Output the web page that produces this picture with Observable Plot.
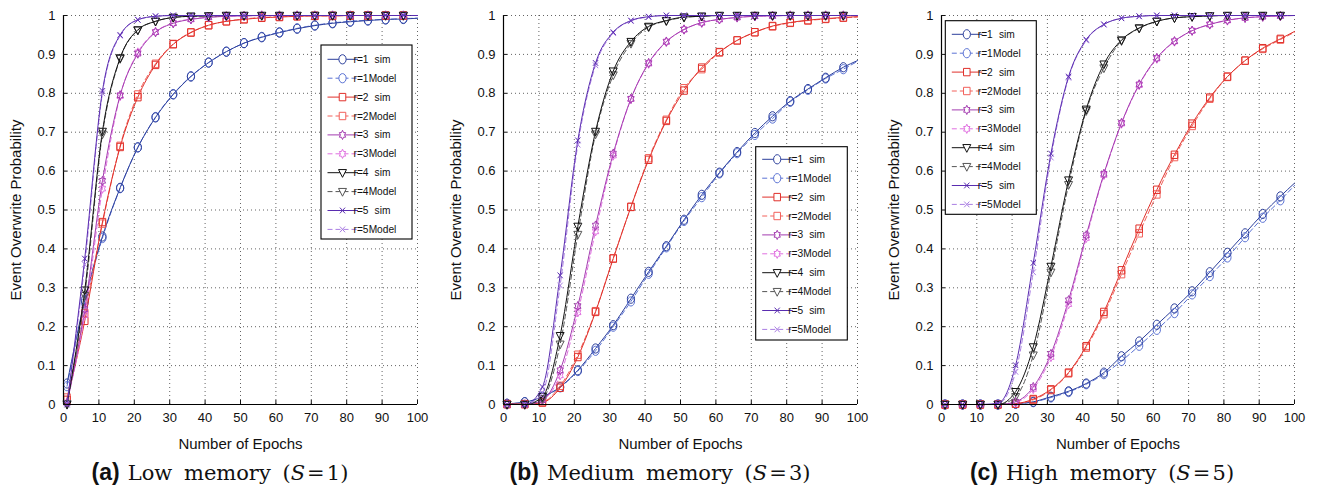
<!DOCTYPE html>
<html>
<head>
<meta charset="utf-8">
<script src="https://cdn.jsdelivr.net/npm/d3@7"></script>
<script src="https://cdn.jsdelivr.net/npm/@observablehq/plot@0.6"></script>
<style>
  body { margin: 0; background: #fff; }
  #row { display: flex; width: 1324px; }
  .panel { position: relative; }
  .panel svg { display: block; }
  .cap { text-align: center; height: 31px; line-height: 34px; white-space: nowrap; color: #111; }
  .cap .lab { font-family: "Liberation Sans", Arial, sans-serif; font-weight: bold; font-size: 23px; }
  .cap .ser { font-family: "DejaVu Serif", "Liberation Serif", serif; font-size: 21px; word-spacing: 5px; margin-left: 8px; }
</style>
</head>
<body>
<div id="row"></div>
<script>
// ---------- data ----------
const epochs = [1, 6, 11, 16, 21, 26, 31, 36, 41, 46, 51, 56, 61, 66, 71, 76, 81, 86, 91, 96, 100];
const markerLastEpoch = 96;
const xDomain = [0, 100];
const yDomain = [0, 1];
const xTicks = [0, 10, 20, 30, 40, 50, 60, 70, 80, 90, 100];
const yTicks = [0, 0.1, 0.2, 0.3, 0.4, 0.5, 0.6, 0.7, 0.8, 0.9, 1];
const seriesNames = ["r=1", "r=2", "r=3", "r=4", "r=5"];
const kindNames = ["sim", "Model"];
const simColors = ["#2c3f9c", "#e0302a", "#a43cb0", "#111111", "#5a2db0"];
const modelColors = ["#5a72d4", "#f2605a", "#e070e0", "#555555", "#a97ee2"];
const xLabel = "Number of Epochs";
const yLabel = "Event Overwrite Probability";
const captionTags = ["(a)", "(b)", "(c)"];
const captionTexts = ["Low memory", "Medium memory", "High memory"];
const captionS = [1, 3, 5];

// Panel (a) Low memory S=1
const a_r1_sim   = [0.054,0.268,0.432,0.557,0.661,0.738,0.797,0.843,0.879,0.907,0.929,0.944,0.956,0.966,0.974,0.980,0.984,0.987,0.990,0.991,0.993];
const a_r1_model = [0.047,0.262,0.428,0.556,0.661,0.739,0.798,0.844,0.879,0.907,0.929,0.945,0.957,0.967,0.975,0.981,0.985,0.988,0.990,0.992,0.993];
const a_r2_sim   = [0.012,0.215,0.469,0.662,0.790,0.873,0.926,0.956,0.975,0.985,0.990,0.994,0.996,0.998,0.999,0.999,1,1,1,1,1];
const a_r2_model = [0.018,0.235,0.465,0.665,0.797,0.876,0.927,0.957,0.975,0.985,0.991,0.995,0.997,0.998,0.999,0.999,1,1,1,1,1];
const a_r3_sim   = [0.004,0.245,0.575,0.795,0.902,0.957,0.980,0.990,0.995,0.998,0.999,1,1,1,1,1,1,1,1,1,1];
const a_r3_model = [0.005,0.230,0.555,0.793,0.905,0.958,0.981,0.991,0.996,0.998,0.999,1,1,1,1,1,1,1,1,1,1];
const a_r4_sim   = [0.000,0.294,0.702,0.891,0.963,0.985,0.995,0.998,0.999,1,1,1,1,1,1,1,1,1,1,1,1];
const a_r4_model = [0.002,0.280,0.695,0.889,0.962,0.985,0.995,0.998,0.999,1,1,1,1,1,1,1,1,1,1,1,1];
const a_r5_sim   = [0.000,0.375,0.806,0.950,0.989,0.998,1,1,1,1,1,1,1,1,1,1,1,1,1,1,1];
const a_r5_model = [0.003,0.360,0.800,0.948,0.989,0.998,1,1,1,1,1,1,1,1,1,1,1,1,1,1,1];

// Panel (b) Medium memory S=3
const b_r1_sim   = [0.002,0.006,0.020,0.045,0.088,0.144,0.204,0.272,0.341,0.407,0.475,0.539,0.596,0.649,0.698,0.741,0.780,0.811,0.840,0.867,0.884];
const b_r1_model = [0.002,0.006,0.019,0.044,0.086,0.138,0.200,0.265,0.336,0.404,0.472,0.533,0.594,0.646,0.693,0.735,0.778,0.809,0.838,0.862,0.882];
const b_r2_sim   = [0.001,0.001,0.005,0.043,0.122,0.238,0.375,0.508,0.629,0.729,0.807,0.866,0.906,0.936,0.957,0.973,0.982,0.988,0.992,0.995,0.997];
const b_r2_model = [0.001,0.001,0.006,0.048,0.128,0.240,0.376,0.508,0.633,0.732,0.813,0.862,0.905,0.936,0.957,0.972,0.981,0.987,0.991,0.994,0.996];
const b_r3_sim   = [0,0,0.011,0.088,0.253,0.460,0.645,0.786,0.878,0.933,0.964,0.982,0.990,0.995,0.998,0.999,1,1,1,1,1];
const b_r3_model = [0,0,0.012,0.075,0.237,0.445,0.640,0.785,0.876,0.932,0.964,0.981,0.990,0.995,0.998,0.999,1,1,1,1,1];
const b_r4_sim   = [0,0,0.020,0.177,0.458,0.702,0.857,0.933,0.972,0.987,0.996,0.998,1,1,1,1,1,1,1,1,1];
const b_r4_model = [0,0,0.015,0.155,0.437,0.695,0.847,0.928,0.970,0.986,0.995,0.998,1,1,1,1,1,1,1,1,1];
const b_r5_sim   = [0,0,0.045,0.332,0.679,0.878,0.957,0.987,0.997,1,1,1,1,1,1,1,1,1,1,1,1];
const b_r5_model = [0,0,0.030,0.306,0.668,0.872,0.955,0.986,0.996,1,1,1,1,1,1,1,1,1,1,1,1];

// Panel (c) High memory S=5
const c_r1_sim   = [0,0,0,0,0.002,0.007,0.020,0.034,0.054,0.082,0.124,0.162,0.205,0.247,0.291,0.340,0.390,0.440,0.490,0.535,0.569];
const c_r1_model = [0,0,0,0,0.002,0.006,0.018,0.032,0.052,0.078,0.112,0.151,0.192,0.235,0.283,0.330,0.378,0.430,0.480,0.525,0.563];
const c_r2_sim   = [0,0,0,0,0.002,0.014,0.039,0.082,0.150,0.238,0.345,0.452,0.552,0.642,0.722,0.789,0.843,0.884,0.916,0.940,0.959];
const c_r2_model = [0,0,0,0,0.002,0.012,0.037,0.080,0.146,0.232,0.335,0.440,0.540,0.636,0.716,0.786,0.842,0.884,0.914,0.938,0.957];
const c_r3_sim   = [0,0,0,0,0.007,0.045,0.130,0.268,0.435,0.593,0.724,0.823,0.891,0.934,0.961,0.977,0.988,0.994,0.997,0.999,1];
const c_r3_model = [0,0,0,0,0.005,0.040,0.122,0.258,0.428,0.590,0.722,0.821,0.889,0.933,0.961,0.977,0.987,0.994,0.997,0.999,1];
const c_r4_sim   = [0,0,0,0,0.033,0.148,0.355,0.577,0.759,0.875,0.937,0.968,0.985,0.994,0.997,0.999,1,1,1,1,1];
const c_r4_model = [0,0,0,0,0.020,0.127,0.340,0.565,0.755,0.865,0.935,0.967,0.985,0.994,0.997,0.999,1,1,1,1,1];
const c_r5_sim   = [0,0,0,0.003,0.101,0.364,0.645,0.843,0.938,0.977,0.993,0.998,1,1,1,1,1,1,1,1,1];
const c_r5_model = [0,0,0,0.002,0.084,0.340,0.635,0.840,0.936,0.977,0.993,0.998,1,1,1,1,1,1,1,1,1];

// ---------- symbols (Matlab-like markers, slightly stretched vertically) ----------
const K = 0.5523;
function rad(size) { return Math.sqrt(size / Math.PI); }
const symCircle = { draw(ctx, size) {
  const r = rad(size), rx = r * 0.86, ry = r * 1.1;
  ctx.moveTo(rx, 0);
  ctx.bezierCurveTo(rx, ry * K, rx * K, ry, 0, ry);
  ctx.bezierCurveTo(-rx * K, ry, -rx, ry * K, -rx, 0);
  ctx.bezierCurveTo(-rx, -ry * K, -rx * K, -ry, 0, -ry);
  ctx.bezierCurveTo(rx * K, -ry, rx, -ry * K, rx, 0);
  ctx.closePath();
}};
const symSquare = { draw(ctx, size) {
  const r = rad(size), w = r * 0.78, h = r * 0.88;
  ctx.moveTo(-w, -h); ctx.lineTo(w, -h); ctx.lineTo(w, h); ctx.lineTo(-w, h); ctx.closePath();
}};
const symHexagram = { draw(ctx, size) {
  const r = rad(size) * 1.0, sx = 0.86, sy = 1.1;
  for (let i = 0; i < 12; i++) {
    const a = -Math.PI / 2 + i * Math.PI / 6;
    const rr = i % 2 === 0 ? r : r / Math.sqrt(3);
    const px = Math.cos(a) * rr * sx, py = Math.sin(a) * rr * sy;
    if (i === 0) ctx.moveTo(px, py); else ctx.lineTo(px, py);
  }
  ctx.closePath();
}};
const symTriDown = { draw(ctx, size) {
  const r = rad(size), w = r * 0.95;
  ctx.moveTo(-w, -r * 0.75); ctx.lineTo(w, -r * 0.75); ctx.lineTo(0, r * 1.1); ctx.closePath();
}};
const symX = { draw(ctx, size) {
  const r = rad(size) * 0.62, h = r * 1.1;
  ctx.moveTo(-r, -h); ctx.lineTo(r, h); ctx.moveTo(r, -h); ctx.lineTo(-r, h);
}};
const symbols = [symCircle, symSquare, symHexagram, symTriDown, symX];
const markerR = 4.2;

// ---------- panels ----------
const panels = [
  { width: 440, ml: 63, mr: 23, sim: [a_r1_sim, a_r2_sim, a_r3_sim, a_r4_sim, a_r5_sim],
    model: [a_r1_model, a_r2_model, a_r3_model, a_r4_model, a_r5_model],
    legend: { left: 321, top: 45, right: 412, bottom: 239, firstRow: 59.3, gap: 18.9 } },
  { width: 440, ml: 63, mr: 23, sim: [b_r1_sim, b_r2_sim, b_r3_sim, b_r4_sim, b_r5_sim],
    model: [b_r1_model, b_r2_model, b_r3_model, b_r4_model, b_r5_model],
    legend: { left: 315.7, top: 146.7, right: 407.3, bottom: 340, firstRow: 159.3, gap: 18.9 } },
  { width: 444, ml: 61, mr: 30, sim: [c_r1_sim, c_r2_sim, c_r3_sim, c_r4_sim, c_r5_sim],
    model: [c_r1_model, c_r2_model, c_r3_model, c_r4_model, c_r5_model],
    legend: { left: 65.3, top: 20.7, right: 156.3, bottom: 214.3, firstRow: 34.3, gap: 18.9 } }
];

const row = document.getElementById("row");
const FONT = "'Liberation Sans', Arial, Helvetica, sans-serif";
const modelDash = "5,3";

panels.forEach((p, pi) => {
  const marks = [
    Plot.gridX(xTicks, { stroke: "#333", strokeOpacity: 0.85, strokeDasharray: "1,3", strokeWidth: 0.9 }),
    Plot.gridY(yTicks, { stroke: "#333", strokeOpacity: 0.85, strokeDasharray: "1,3", strokeWidth: 0.9 })
  ];
  seriesNames.forEach((name, i) => {
    const simRows = epochs.map((e, j) => ({ epoch: e, value: p.sim[i][j] }));
    const modelRows = epochs.map((e, j) => ({ epoch: e, value: p.model[i][j] }));
    marks.push(Plot.line(modelRows, { x: "epoch", y: "value", stroke: modelColors[i], strokeWidth: 1, strokeDasharray: modelDash, curve: "monotone-x" }));
    marks.push(Plot.line(simRows, { x: "epoch", y: "value", stroke: simColors[i], strokeWidth: 1, curve: "monotone-x" }));
    marks.push(Plot.dot(modelRows.filter(d => d.epoch <= markerLastEpoch), { x: "epoch", y: "value", symbol: symbols[i], r: markerR, stroke: modelColors[i], fill: "none", strokeWidth: 1 }));
    marks.push(Plot.dot(simRows.filter(d => d.epoch <= markerLastEpoch), { x: "epoch", y: "value", symbol: symbols[i], r: markerR, stroke: simColors[i], fill: "none", strokeWidth: 1 }));
  });
  marks.push(Plot.ruleY([yDomain[0]], { stroke: "#000", strokeWidth: 1.2 }));
  marks.push(Plot.ruleX([xDomain[0]], { stroke: "#000", strokeWidth: 1.2 }));
  marks.push(Plot.axisX(xTicks, { anchor: "bottom", tickSize: -4, tickPadding: 12, tickFormat: d => String(d),
    label: xLabel, labelAnchor: "center", labelOffset: 44, labelArrow: "none" }));
  marks.push(Plot.axisY(yTicks, { anchor: "left", tickSize: -4, tickPadding: 12, tickFormat: d => String(d),
    label: yLabel, labelAnchor: "center", labelOffset: 53, labelArrow: "none" }));

  const svg = Plot.plot({
    width: p.width, height: 455,
    marginLeft: p.ml, marginRight: p.mr, marginTop: 15, marginBottom: 51,
    x: { domain: xDomain },
    y: { domain: yDomain },
    style: { fontFamily: FONT, fontSize: "13px", color: "#111", background: "#fff", overflow: "visible" },
    marks
  });

  const s = d3.select(svg);
  s.selectAll('[aria-label="x-axis label"] text, [aria-label="y-axis label"] text').style("font-size", "15px");
  s.selectAll('[aria-label="x-axis label"], [aria-label="y-axis label"]').style("font-size", "15px");

  // legend
  const L = p.legend;
  const g = s.append("g").style("font-family", FONT).style("font-size", "10.2px");
  g.append("rect").attr("x", L.left).attr("y", L.top).attr("width", L.right - L.left).attr("height", L.bottom - L.top)
    .attr("fill", "#fff").attr("stroke", "#000").attr("stroke-width", 1.1);
  let k = 0;
  seriesNames.forEach((name, i) => {
    kindNames.forEach((kind, ki) => {
      const y = L.firstRow + k * L.gap;
      const color = ki === 0 ? simColors[i] : modelColors[i];
      g.append("line").attr("x1", L.left + 6.5).attr("x2", L.left + 37).attr("y1", y).attr("y2", y)
        .attr("stroke", color).attr("stroke-width", 1).attr("stroke-dasharray", ki === 0 ? null : modelDash);
      g.append("path").attr("d", d3.symbol(symbols[i], markerR * markerR * Math.PI)())
        .attr("transform", `translate(${L.left + 21.5},${y})`).attr("fill", "#fff").attr("stroke", color).attr("stroke-width", 1);
      g.append("text").attr("x", L.left + 40).attr("y", y).attr("dy", "0.35em").attr("fill", "#111").text(name);
      g.append("text").attr("x", L.left + 61.5).attr("y", y).attr("dy", "0.35em").attr("fill", "#111").text(kind);
      k++;
    });
  });

  const div = document.createElement("div");
  div.className = "panel";
  div.style.width = p.width + "px";
  div.appendChild(svg);
  const cap = document.createElement("div");
  cap.className = "cap";
  cap.innerHTML = `<span class="lab">${captionTags[pi]}</span><span class="ser">${captionTexts[pi]} (<i>S</i>&#8202;=&#8202;${captionS[pi]})</span>`;
  div.appendChild(cap);
  row.appendChild(div);
});
</script>
</body>
</html>
